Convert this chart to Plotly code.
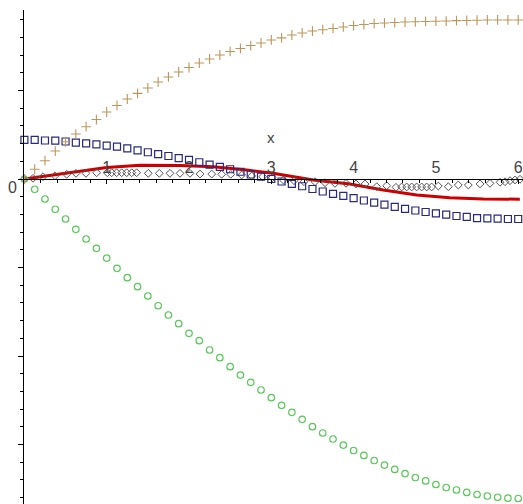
import plotly.graph_objects as go

# Shared sample abscissae for the point series
x_pts = [0, 0.125, 0.25, 0.375, 0.5, 0.625, 0.75, 0.875, 1.0, 1.125, 1.25, 1.375,
         1.5, 1.625, 1.75, 1.875, 2.0, 2.125, 2.25, 2.375, 2.5, 2.625, 2.75, 2.875,
         3.0, 3.125, 3.25, 3.375, 3.5, 3.625, 3.75, 3.875, 4.0, 4.125, 4.25, 4.375,
         4.5, 4.625, 4.75, 4.875, 5.0, 5.125, 5.25, 5.375, 5.5, 5.625, 5.75, 5.875, 6.0]

y_plus = [0, 0.110, 0.207, 0.316, 0.421, 0.508, 0.591, 0.672, 0.757, 0.831, 0.904, 0.968,
          1.028, 1.096, 1.153, 1.209, 1.260, 1.311, 1.356, 1.401, 1.441, 1.475, 1.508, 1.537,
          1.571, 1.595, 1.627, 1.650, 1.672, 1.687, 1.701, 1.718, 1.734, 1.746, 1.757, 1.763,
          1.768, 1.774, 1.776, 1.780, 1.783, 1.785, 1.789, 1.791, 1.794, 1.797, 1.797, 1.797, 1.797]

y_circle = [0, -0.116, -0.226, -0.342, -0.452, -0.569, -0.678, -0.783, -0.893, -1.009, -1.115, -1.217,
            -1.322, -1.432, -1.537, -1.635, -1.744, -1.827, -1.932, -2.019, -2.121, -2.215, -2.297, -2.384,
            -2.471, -2.557, -2.636, -2.715, -2.799, -2.870, -2.938, -3.006, -3.068, -3.124, -3.181, -3.232,
            -3.282, -3.328, -3.373, -3.412, -3.452, -3.486, -3.514, -3.542, -3.565, -3.582, -3.596, -3.607, -3.610]

y_square = [0.441, 0.441, 0.435, 0.433, 0.424, 0.412, 0.403, 0.392, 0.376, 0.365, 0.347, 0.324,
            0.302, 0.280, 0.260, 0.237, 0.215, 0.189, 0.162, 0.136, 0.110, 0.082, 0.051, 0.026,
            0, -0.028, -0.056, -0.082, -0.113, -0.141, -0.167, -0.190, -0.215, -0.243, -0.266, -0.290,
            -0.316, -0.337, -0.356, -0.373, -0.388, -0.403, -0.418, -0.429, -0.441, -0.444, -0.447, -0.452, -0.452]

x_diamond = [0, 0.105, 0.226, 0.372, 0.514, 0.627, 0.748, 0.878, 1.007, 1.061, 1.121, 1.182, 1.243,
             1.304, 1.364, 1.505, 1.639, 1.769, 1.891, 2.012, 2.134, 2.276, 2.397, 2.507, 2.640,
             2.762, 2.896, 3.012, 3.146, 3.276, 3.397, 3.531, 3.653, 3.774, 3.908, 4.029, 4.139,
             4.281, 4.402, 4.515, 4.584, 4.645, 4.706, 4.766, 4.827, 4.888, 4.948, 5.029, 5.151,
             5.272, 5.394, 5.536, 5.657, 5.779, 5.840, 5.900, 5.961, 6.022]
y_diamond = [0, 0.008, 0.026, 0.037, 0.053, 0.064, 0.064, 0.071, 0.071, 0.071, 0.071, 0.071, 0.071,
             0.071, 0.071, 0.064, 0.064, 0.064, 0.064, 0.064, 0.056, 0.056, 0.053, 0.053, 0.045,
             0.034, 0.026, 0.015, -0.011, -0.019, -0.031, -0.031, -0.042, -0.049, -0.049, -0.056, -0.056,
             -0.087, -0.076, -0.094, -0.090, -0.090, -0.090, -0.090, -0.090, -0.090, -0.090, -0.079, -0.087,
             -0.068, -0.068, -0.056, -0.049, -0.037, -0.031, -0.019, -0.011, -0.003]

x_line = [0, 0.311, 0.514, 0.75, 1.0, 1.405, 1.71, 1.89, 2.295, 2.70, 3.02, 3.51, 3.956,
          4.36, 4.767, 5.171, 5.576, 6.02]
y_line = [0, 0.040, 0.064, 0.096, 0.130, 0.155, 0.158, 0.153, 0.139, 0.102, 0.064, -0.011, -0.056,
          -0.124, -0.181, -0.211, -0.226, -0.228]

x_ticks = [1, 2, 3, 4, 5, 6]
x_ticklabels = ["1", "2", "3", "4", "5", "6"]

W, H = 523, 504
x0_px, x_scale = 24.4, 82.3
y0_px, y_scale = 179.0, 88.5
top_px = 10

fig = go.Figure()
fig.add_trace(go.Scatter(x=x_line, y=y_line, mode="lines",
                         line=dict(color="rgb(204,0,0)", width=3), cliponaxis=False))
fig.add_trace(go.Scatter(x=x_diamond, y=y_diamond, mode="markers", cliponaxis=False,
                         marker=dict(symbol="diamond-open", size=6, color="#555555",
                                     line=dict(width=1, color="#555555"))))
fig.add_trace(go.Scatter(x=x_pts, y=y_square, mode="markers", cliponaxis=False,
                         marker=dict(symbol="square-open", size=7, color="rgb(40,40,130)",
                                     line=dict(width=1.2, color="rgb(40,40,130)"))))
fig.add_trace(go.Scatter(x=x_pts, y=y_circle, mode="markers", cliponaxis=False,
                         marker=dict(symbol="circle-open", size=6.5, color="rgb(90,200,90)",
                                     line=dict(width=1.2, color="rgb(90,200,90)"))))
fig.add_trace(go.Scatter(x=x_pts, y=y_plus, mode="markers", cliponaxis=False,
                         marker=dict(symbol="cross-thin-open", size=7, color="rgb(190,150,90)",
                                     line=dict(width=1.1, color="rgb(190,150,90)"))))

xmax = (W - x0_px) / x_scale
ymax = (y0_px - top_px) / y_scale
ymin = -(H - y0_px) / y_scale

fig.update_layout(
    width=W, height=H, margin=dict(l=0, r=0, t=0, b=0),
    paper_bgcolor="white", plot_bgcolor="white", showlegend=False,
    font=dict(family="Liberation Sans, Arial, sans-serif", color="#444444"),
    xaxis=dict(domain=[x0_px / W, 1], range=[0, xmax], anchor="free",
               position=(H - y0_px) / H, side="top",
               showgrid=False, zeroline=False, showline=True, linecolor="black", linewidth=1,
               tickmode="array", tickvals=x_ticks, ticktext=x_ticklabels,
               ticks="inside", ticklen=4, tickcolor="black",
               tickfont=dict(size=16, color="#444444"),
               minor=dict(dtick=0.2, tick0=0, ticks="inside", ticklen=3, tickcolor="black", showgrid=False)),
    yaxis=dict(domain=[0, (H - top_px) / H], range=[ymin, ymax], anchor="x",
               showgrid=False, zeroline=False, showline=True, linecolor="black", linewidth=1,
               tickmode="linear", tick0=0, dtick=1, ticks="outside", ticklen=5, tickcolor="black",
               showticklabels=False,
               minor=dict(dtick=0.2, tick0=0, ticks="outside", ticklen=3, tickcolor="black", showgrid=False)),
    annotations=[
        dict(x=0, y=0, xref="x", yref="y", text="0", showarrow=False,
             xanchor="right", yanchor="top", xshift=-5, yshift=2,
             font=dict(size=16, color="#444444")),
        dict(x=3, y=(y0_px - 137) / y_scale, xref="x", yref="y", text="x", showarrow=False,
             xanchor="center", yanchor="middle", font=dict(size=15, color="#444444")),
    ],
)

fig.write_html("out.html", config={"displayModeBar": False},
               post_script="document.body.style.margin='0';document.body.style.overflow='hidden';")
